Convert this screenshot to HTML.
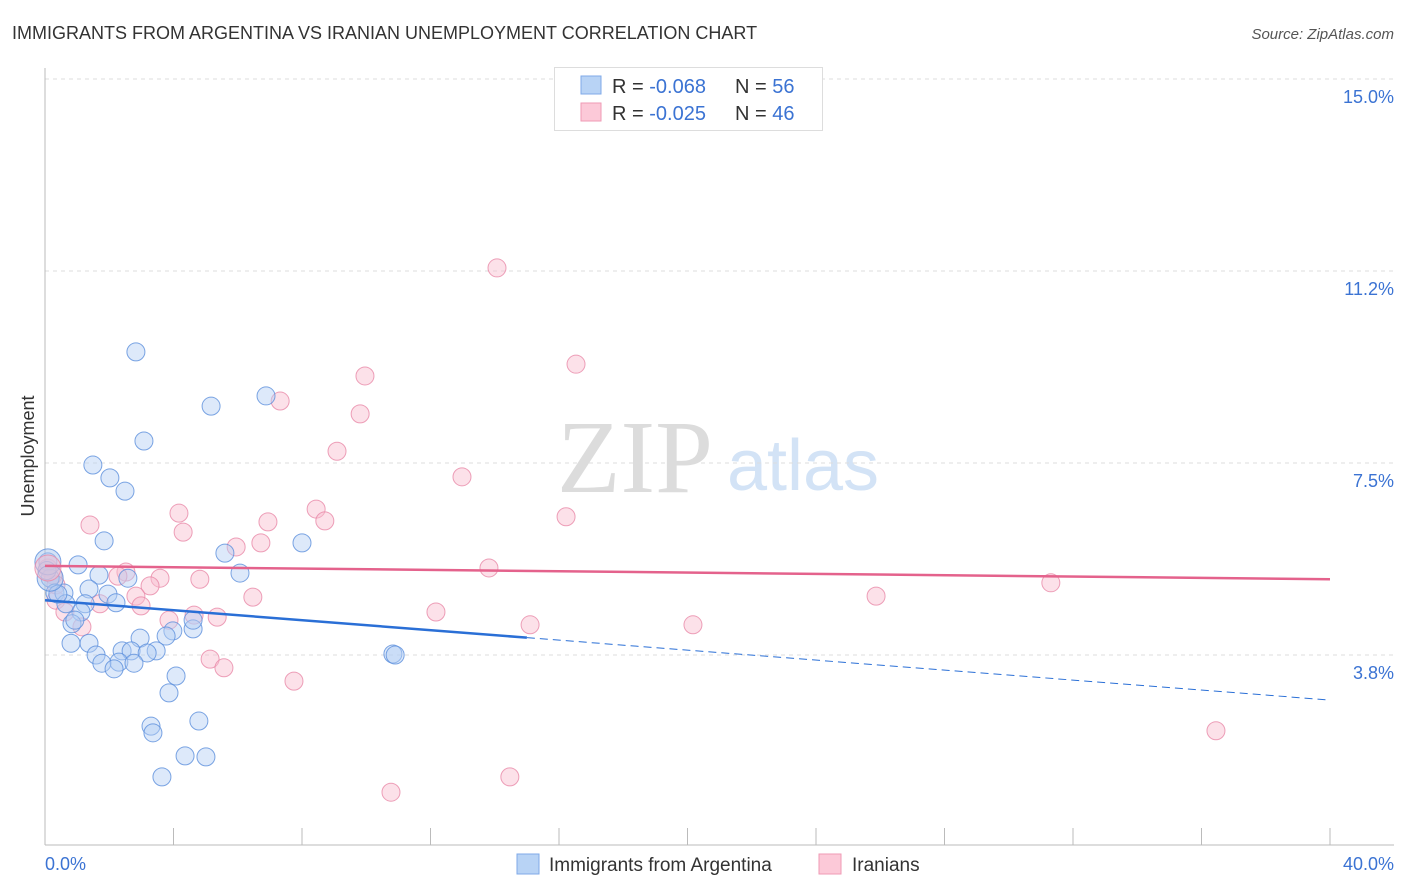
<!DOCTYPE html>
<html><head><meta charset="utf-8"><style>
body{margin:0;background:#fff;font-family:"Liberation Sans",sans-serif;}
svg{display:block}
</style></head><body>
<svg id="chart" width="1406" height="892">
<text x="12" y="39" font-size="18" fill="#333">IMMIGRANTS FROM ARGENTINA VS IRANIAN UNEMPLOYMENT CORRELATION CHART</text>
<text x="1394" y="39" font-size="15" fill="#555" font-style="italic" text-anchor="end">Source: ZipAtlas.com</text>
<g>
<text x="635" y="492" font-family="Liberation Serif,serif" font-size="104" fill="#dcdcdc" text-anchor="middle">ZIP</text>
<text x="803" y="490" font-size="72" fill="#d3e3f6" text-anchor="middle">atlas</text>
</g>
<g id="grid"></g><g id="axes"></g><g id="marks"></g>
<text transform="translate(34,456) rotate(-90)" font-size="18" fill="#333" text-anchor="middle">Unemployment</text>
<text x="45" y="870" font-size="18" fill="#3b73d3">0.0%</text>
<text x="1394" y="870" font-size="18" fill="#3b73d3" text-anchor="end">40.0%</text>
<g>
<rect x="554.5" y="67.5" width="268" height="63" fill="#fff" stroke="#ddd"/>
<rect x="581" y="76" width="20" height="18" fill="#b8d3f5" stroke="#7faae8"/>
<rect x="581" y="103" width="20" height="18" fill="#fcc9d8" stroke="#ef9ab5"/>
<text x="612" y="93" font-size="20" fill="#333">R = <tspan fill="#3b73d3">-0.068</tspan><tspan x="735">N = </tspan><tspan fill="#3b73d3">56</tspan></text>
<text x="612" y="120" font-size="20" fill="#333">R = <tspan fill="#3b73d3">-0.025</tspan><tspan x="735">N = </tspan><tspan fill="#3b73d3">46</tspan></text>
</g>
<g>
<rect x="517" y="854" width="22" height="20" fill="#b8d3f5" stroke="#7faae8"/>
<text x="549" y="871" font-size="19" fill="#333">Immigrants from Argentina</text>
<rect x="819" y="854" width="22" height="20" fill="#fcc9d8" stroke="#ef9ab5"/>
<text x="852" y="871" font-size="19" fill="#333">Iranians</text>
</g>
</svg>
<script>
const yTicks=[15.0,11.25,7.5,3.75];
const yTickLabels=["15.0%","11.2%","7.5%","3.8%"];
const xTicks=[0,4,8,12,16,20,24,28,32,36,40];
const blueX=[2.83,5.17,6.88,3.08,1.49,2.02,2.49,1.84,8.00,5.60,1.03,6.07,1.68,2.58,1.37,0.09,0.16,0.31,0.59,1.96,1.25,2.21,0.65,1.12,0.84,0.93,3.98,4.61,3.77,2.96,1.37,0.81,2.40,2.68,3.46,3.18,1.59,2.30,2.77,1.77,2.15,10.83,10.9,4.08,3.86,4.79,3.30,3.36,4.36,5.01,3.64,4.61,0.4,0.06];
const blueY=[9.67,8.61,8.81,7.93,7.46,7.21,6.95,5.98,5.94,5.74,5.51,5.35,5.31,5.25,5.04,5.57,5.25,4.96,4.96,4.94,4.75,4.77,4.75,4.59,4.36,4.43,4.22,4.26,4.12,4.08,3.98,3.98,3.83,3.83,3.83,3.79,3.75,3.61,3.59,3.59,3.48,3.77,3.75,3.34,3.01,2.46,2.36,2.23,1.78,1.76,1.37,4.43,4.94,5.4];
const pinkX=[14.07,16.53,9.96,7.32,9.81,9.09,12.98,8.44,16.22,4.17,1.40,6.94,8.71,4.30,5.95,6.72,13.82,31.31,2.52,2.27,3.58,4.82,3.27,0.09,0.25,25.87,6.47,2.83,0.34,1.71,2.99,12.17,4.64,5.36,3.86,0.62,15.10,20.17,1.15,5.14,5.57,7.75,36.45,14.47,10.77,0.34];
const pinkY=[11.31,9.43,9.20,8.71,8.46,7.73,7.23,6.60,6.45,6.52,6.29,6.35,6.37,6.15,5.86,5.94,5.45,5.16,5.37,5.29,5.25,5.23,5.10,5.45,5.31,4.90,4.88,4.90,4.82,4.75,4.71,4.59,4.53,4.49,4.43,4.59,4.34,4.34,4.30,3.67,3.50,3.24,2.27,1.37,1.07,5.12];
const blueTrend=[4.82,2.87];
const blueSolidEnd=15.0;
const pinkTrend=[5.49,5.23];
const big=[[0.09,5.57,'b'],[0.16,5.25,'b'],[0.09,5.45,'p']];
const NS='http://www.w3.org/2000/svg';
const X=v=>45+v/40*1285, Y=v=>79+(15-v)*51.2;
function mk(t,a,p){const e=document.createElementNS(NS,t);for(const k in a)e.setAttribute(k,a[k]);p.appendChild(e);return e;}
const grid=document.getElementById('grid'),axes=document.getElementById('axes'),marks=document.getElementById('marks');
yTicks.forEach((t,i)=>{
 const l=mk('line',{x1:45,x2:1394,y1:Y(t),y2:Y(t),stroke:'#ddd','stroke-dasharray':'4 4'},grid);
 
 
 const tx=mk('text',{x:1394,y:Y(t)+24,'font-size':18,fill:'#3b73d3','text-anchor':'end'},grid);
 tx.textContent=yTickLabels[i];
 
 
});
const ya=mk('line',{x1:45,x2:45,y1:68,y2:845,stroke:'#bbb'},axes);


const xa=mk('line',{x1:45,x2:1394,y1:845,y2:845,stroke:'#bbb'},axes);


xTicks.forEach(t=>{const l=mk('line',{x1:X(t),x2:X(t),y1:828,y2:845,stroke:'#bbb'},axes);
 
 });
function pts(xs,ys,fill,stroke,name){xs.forEach((x,i)=>{const c=mk('circle',{cx:X(x),cy:Y(ys[i]),r:9,fill:fill,'fill-opacity':0.45,stroke:stroke,'stroke-opacity':0.8,'stroke-width':1},marks);
 
 });}
pts(pinkX,pinkY,'#f8bccf','#e888a8','iranians-point');
pts(blueX,blueY,'#b3cff3','#5b8fdc','argentina-point');
big.forEach(b=>{const c=mk('circle',{cx:X(b[0]),cy:Y(b[1]),r:13,fill:b[2]=='b'?'#a9c6ee':'#f6bfd0','fill-opacity':0.5,stroke:b[2]=='b'?'#5b8fdc':'#e888a8','stroke-opacity':0.8},marks);
 
 });
const bAt=x=>blueTrend[0]+(blueTrend[1]-blueTrend[0])*x/40;
const bl=mk('line',{x1:X(0),y1:Y(bAt(0)),x2:X(blueSolidEnd),y2:Y(bAt(blueSolidEnd)),stroke:'#2a6fd6','stroke-width':2.5},marks);


const bd=mk('line',{x1:X(blueSolidEnd),y1:Y(bAt(blueSolidEnd)),x2:X(40),y2:Y(bAt(40)),stroke:'#2a6fd6','stroke-width':1,'stroke-dasharray':'8 5'},marks);


const pl=mk('line',{x1:X(0),y1:Y(pinkTrend[0]),x2:X(40),y2:Y(pinkTrend[1]),stroke:'#e4628c','stroke-width':2.5},marks);


</script>
</body></html>
